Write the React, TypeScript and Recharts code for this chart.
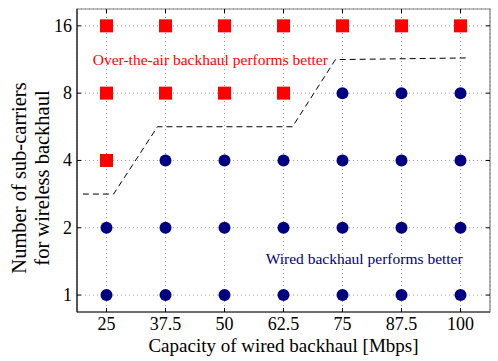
import React from 'react';
import {
  ComposedChart,
  Scatter,
  Line,
  XAxis,
  YAxis,
  CartesianGrid,
  ReferenceArea,
  ReferenceDot,
} from 'recharts';

// capacity of wired backhaul [Mbps]
const CAPACITY = [25, 37.5, 50, 62.5, 75, 87.5, 100];
// number of sub-carriers (log2 axis)
const SUBCARRIERS = [1, 2, 4, 8, 16];
// smallest number of sub-carriers where over-the-air wins, per capacity
const OTA_MIN = [4, 8, 8, 8, 16, 16, 16];

// dashed boundary
const BOUNDARY_X = [20, 26.5, 35.8, 64.4, 73.5, 101.8];
const BOUNDARY_Y = [2.83, 2.83, 5.66, 5.66, 11.3, 11.5];

const X_DOMAIN = [18.75, 106.25];
const Y_DOMAIN = [0.84, 19.03];

const FONT = "'Liberation Serif', 'Times New Roman', serif";
const RED = '#ff0000';
const BLUE = '#000080';

// plot box in px
const BOX = { left: 77, right: 490, top: 9, bottom: 312 };

const redPoints: { x: number; y: number }[] = [];
const bluePoints: { x: number; y: number }[] = [];
CAPACITY.forEach((c, i) => {
  SUBCARRIERS.forEach(s => {
    if (s >= OTA_MIN[i]) redPoints.push({ x: c, y: s });
    else bluePoints.push({ x: c, y: s });
  });
});
const boundary = BOUNDARY_X.map((x, i) => ({ x, y: BOUNDARY_Y[i] }));

const Square = (props: any) => {
  const { cx, cy } = props;
  return <rect x={cx - 6.5} y={cy - 6.5} width={13} height={13} fill={RED} />;
};

const Dot = (props: any) => {
  const { cx, cy } = props;
  return <circle cx={cx} cy={cy} r={6} fill={BLUE} />;
};

const XTick = (props: any) => {
  const { x, payload } = props;
  const cx = payload.coordinate ?? x;
  return (
    <g>
      <line x1={cx} x2={cx} y1={BOX.bottom} y2={BOX.bottom - 4} stroke="#000" />
      <line x1={cx} x2={cx} y1={BOX.top} y2={BOX.top + 4} stroke="#000" />
      <text x={cx} y={BOX.bottom + 18} textAnchor="middle" fontFamily={FONT} style={{ fontFamily: FONT, fontSize: 18 }} fill="#000">
        {payload.value}
      </text>
    </g>
  );
};

const YTick = (props: any) => {
  const { y, payload } = props;
  const cy = payload.coordinate ?? y;
  return (
    <g>
      <line x1={BOX.left} x2={BOX.left + 4} y1={cy} y2={cy} stroke="#000" />
      <line x1={BOX.right} x2={BOX.right - 4} y1={cy} y2={cy} stroke="#000" />
      <text x={BOX.left - 5} y={cy} dy="0.33em" textAnchor="end" fontFamily={FONT} style={{ fontFamily: FONT, fontSize: 18 }} fill="#000">
        {payload.value}
      </text>
    </g>
  );
};

const YLabel = () => {
  const cy = 178;
  return (
    <g style={{ fontFamily: FONT, fontSize: 20.5 }} fill="#000">
      <text x={26} y={cy} textAnchor="middle" transform={`rotate(-90 26 ${cy})`}>
        Number of sub-carriers
      </text>
      <text x={49} y={cy} textAnchor="middle" transform={`rotate(-90 49 ${cy})`}>
        for wireless backhaul
      </text>
    </g>
  );
};

const XLabel = () => (
  <text x={(BOX.left + BOX.right) / 2} y={352} textAnchor="middle" fill="#000" style={{ fontFamily: FONT, fontSize: 19 }}>
    Capacity of wired backhaul [Mbps]
  </text>
);

const Note = ({ viewBox, value, color }: any) => {
  const cx = viewBox.x + (viewBox.width || 0) / 2;
  const cy = viewBox.y + (viewBox.height || 0) / 2;
  return (
    <text x={cx} y={cy} dy="0.33em" textAnchor="middle" fill={color} style={{ fontFamily: FONT, fontSize: 15.5 }}>
      {value}
    </text>
  );
};

export default function App() {
  return (
    <div style={{ position: 'absolute', left: 0, top: 0, background: '#fff', fontFamily: FONT }}>
      <ComposedChart
        width={498}
        height={361}
        margin={{ top: BOX.top, right: 498 - BOX.right, bottom: 0, left: 0 }}
      >
        <CartesianGrid stroke="#999" strokeDasharray="1 3" />
        <XAxis
          dataKey="x"
          type="number"
          domain={X_DOMAIN}
          ticks={CAPACITY}
          allowDataOverflow
          height={361 - BOX.bottom}
          tickLine={false}
          axisLine={{ stroke: '#222' }}
          tick={<XTick />}
          label={<XLabel />}
        />
        <YAxis
          dataKey="y"
          type="number"
          scale="log"
          domain={Y_DOMAIN}
          ticks={SUBCARRIERS}
          allowDataOverflow
          width={BOX.left}
          tickLine={false}
          axisLine={{ stroke: '#000' }}
          tick={<YTick />}
          label={<YLabel />}
        />
        <ReferenceArea
          x1={X_DOMAIN[0]}
          x2={X_DOMAIN[1]}
          y1={Y_DOMAIN[0]}
          y2={Y_DOMAIN[1]}
          fill="none"
          stroke="#808080"
          strokeWidth={1.2}
        />
        <Line
          data={boundary}
          dataKey="y"
          type="linear"
          stroke="#000"
          strokeWidth={1}
          strokeDasharray="6 4"
          dot={false}
          isAnimationActive={false}
        />
        <Scatter data={redPoints} dataKey="y" shape={<Square />} isAnimationActive={false} />
        <Scatter data={bluePoints} dataKey="y" shape={<Dot />} isAnimationActive={false} />
        <ReferenceDot
          x={47}
          y={11.3}
          r={0}
          label={<Note value="Over-the-air backhaul performs better" color={RED} />}
        />
        <ReferenceDot
          x={79.6}
          y={1.45}
          r={0}
          label={<Note value="Wired backhaul performs better" color={BLUE} />}
        />
      </ComposedChart>
    </div>
  );
}
